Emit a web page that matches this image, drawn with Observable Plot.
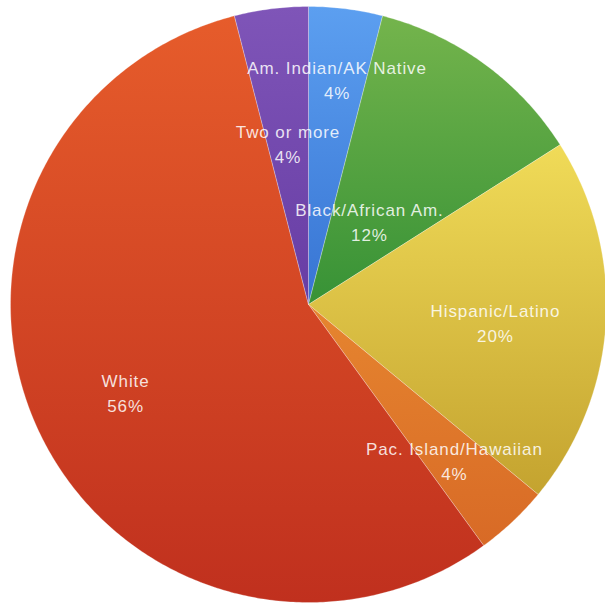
<!DOCTYPE html>
<html><head><meta charset="utf-8">
<script src="https://cdn.jsdelivr.net/npm/d3@7"></script>
<script src="https://cdn.jsdelivr.net/npm/@observablehq/plot@0.6"></script>
<style>html,body{margin:0;padding:0;background:#fff;overflow:hidden}</style>
</head><body><div id="chart"></div>
<script>
// Data (clockwise from 12 o'clock)
const categories = ["Am. Indian/AK Native", "Black/African Am.", "Hispanic/Latino", "Pac. Island/Hawaiian", "White", "Two or more"];
const percents = [4, 12, 20, 4, 56, 4];

// Styles / layout (kept apart from the data)
const colorsTop = ["#5c9ff0", "#74b44c", "#f0db58", "#e6852f", "#e65c2b", "#7f55b8"];
const colorsBottom = ["#3774d3", "#379236", "#c4a32f", "#d86a26", "#c0301e", "#673da4"];
const labelRadius = [0.765, 0.348, 0.63, 0.715, 0.68, 0.548];
const labelAngleShift = [0, 0, 1.6, 0, -0.3, 0];

const W = 605, H = 603, cx = 308, cy = 304, R = 298;

const arcs = d3.pie().sort(null).value(d => d)(percents);
const pts = [];
arcs.forEach((p, i) => {
  pts.push({k: i, u: 0, v: 0});
  const n = Math.max(2, Math.ceil((p.endAngle - p.startAngle) / 0.01));
  for (let j = 0; j <= n; j++) {
    const a = p.startAngle + (p.endAngle - p.startAngle) * j / n;
    pts.push({k: i, u: Math.sin(a), v: Math.cos(a)});
  }
  pts.push({k: i, u: 0, v: 0});
});
const labels = arcs.map((p, i) => {
  const a = (p.startAngle + p.endAngle) / 2 + labelAngleShift[i] * Math.PI / 180;
  return {u: labelRadius[i] * Math.sin(a), v: labelRadius[i] * Math.cos(a), text: categories[i] + "\n" + percents[i] + "%"};
});

const chart = Plot.plot({
  width: W, height: H,
  margin: 0,
  x: {domain: [-cx / R, (W - cx) / R], range: [0, W], axis: null},
  y: {domain: [-(H - cy) / R, cy / R], range: [H, 0], axis: null},
  color: {type: "identity"},
  style: {background: "#fff", fontFamily: "'Liberation Sans', Arial, sans-serif"},
  marks: [
    Plot.line(pts, {x: "u", y: "v", z: "k", fill: d => `url(#g${d.k})`, stroke: "#fff", strokeWidth: 0.6, strokeOpacity: 0.45}),
    Plot.text(labels, {x: "u", y: "v", text: "text", fill: "#fff", fillOpacity: 0.85, fontSize: 17, lineHeight: 1.45, textAnchor: "middle"})
  ]
});

const svg = d3.select(chart);
const defs = svg.insert("defs", ":first-child");
arcs.forEach((p, i) => {
  const g = defs.append("linearGradient").attr("id", "g" + i).attr("x1", 0).attr("y1", 0).attr("x2", 0).attr("y2", 1);
  g.append("stop").attr("offset", "0%").attr("stop-color", colorsTop[i]);
  g.append("stop").attr("offset", "100%").attr("stop-color", colorsBottom[i]);
});
svg.selectAll("text").style("letter-spacing", "0.9px");
document.getElementById("chart").appendChild(chart);
</script>
</body></html>
